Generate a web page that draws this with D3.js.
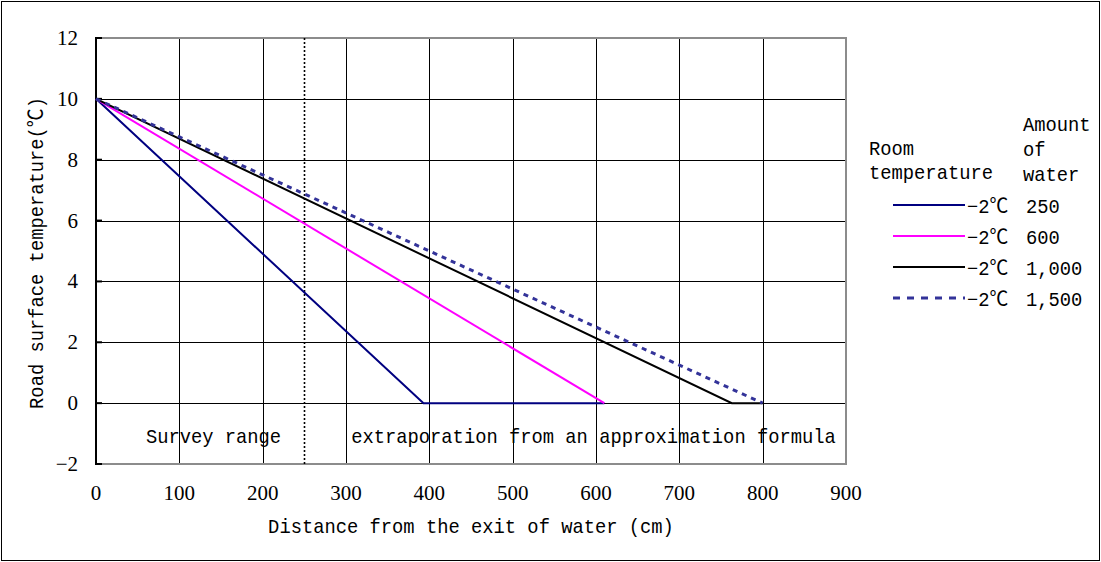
<!DOCTYPE html>
<html>
<head>
<meta charset="utf-8">
<script src="https://cdn.jsdelivr.net/npm/d3@7"></script>
<style>
  html, body { margin: 0; padding: 0; background: #fff; }
  svg { display: block; }
</style>
</head>
<body>
<svg id="chart" width="1101" height="562"></svg>
<script>
// Road surface temperature along the flow, per amount of water (room temperature −2℃)
const xTicks = [0, 100, 200, 300, 400, 500, 600, 700, 800, 900];
const yTicks = [-2, 0, 2, 4, 6, 8, 10, 12];

const seriesNames = ["250", "600", "1,000", "1,500"];
const roomTemp = "−2℃";
const water250  = [[0, 10], [393, 0], [610, 0]];
const water600  = [[0, 10], [610, 0]];
const water1000 = [[0, 10], [763, 0], [800, 0]];
const water1500 = [[0, 10], [800, 0]];

const surveyLimit = 250;
const surveyLabel = "Survey range";
const extraLabel = "extraporation from an approximation formula";
const xTitle = "Distance from the exit of water (cm)";
const yTitle = "Road surface temperature(℃)";

const svg = d3.select("#chart");
const W = 1101, H = 562;
const plot = { left: 96, right: 846, top: 38, bottom: 464 };

const x = d3.scaleLinear().domain([0, 900]).range([plot.left, plot.right]);
const y = d3.scaleLinear().domain([-2, 12]).range([plot.bottom, plot.top]);

const monoFont = "'Liberation Mono', 'Noto Sans CJK JP', monospace";
const serifFont = "'Liberation Serif', serif";

// text drawn slightly condensed horizontally
function label(parent, px, py, s, opts = {}) {
  const sx = opts.sx ?? 0.94;
  const rot = opts.rotate ? ` rotate(${opts.rotate})` : "";
  const g = parent.append("g").attr("transform", `translate(${px},${py})${rot} scale(${sx},1)`);
  return g.append("text")
    .attr("font-family", opts.font ?? monoFont)
    .attr("font-size", opts.size ?? 20)
    .attr("text-anchor", opts.anchor ?? "start")
    .attr("fill", "#000")
    .text(s);
}

// outer frame
svg.append("rect").attr("x", 1.5).attr("y", 1.5).attr("width", W - 3).attr("height", H - 3)
  .attr("fill", "#fff").attr("stroke", "#000").attr("stroke-width", 1);

// grid
const grid = svg.append("g");
grid.selectAll("line.v").data(xTicks.slice(1, -1)).join("line")
  .attr("x1", d => Math.round(x(d)) + 0.5).attr("x2", d => Math.round(x(d)) + 0.5)
  .attr("y1", plot.top).attr("y2", plot.bottom)
  .attr("stroke", "#000").attr("stroke-width", 1);
grid.selectAll("line.h").data(yTicks.slice(1, -1)).join("line")
  .attr("x1", plot.left).attr("x2", plot.right)
  .attr("y1", d => Math.round(y(d)) + 0.5).attr("y2", d => Math.round(y(d)) + 0.5)
  .attr("stroke", "#000").attr("stroke-width", 1);

// plot border (grey), left axis black
svg.append("rect").attr("x", plot.left).attr("y", plot.top)
  .attr("width", plot.right - plot.left).attr("height", plot.bottom - plot.top)
  .attr("fill", "none").attr("stroke", "#8c8c8c").attr("stroke-width", 2);
svg.append("line").attr("x1", plot.left).attr("x2", plot.left)
  .attr("y1", plot.top - 1).attr("y2", plot.bottom + 1)
  .attr("stroke", "#000").attr("stroke-width", 2);
svg.selectAll("line.yt").data(yTicks).join("line")
  .attr("x1", plot.left).attr("x2", plot.left + 6)
  .attr("y1", d => y(d)).attr("y2", d => y(d))
  .attr("stroke", "#000").attr("stroke-width", 2);

// y tick labels
yTicks.forEach(t => {
  label(svg, 78, y(t) + 7, t < 0 ? "−" + Math.abs(t) : String(t),
    { font: serifFont, size: 21, anchor: "end", sx: 1 });
});
// x tick labels
xTicks.forEach(t => {
  label(svg, x(t), 500, String(t), { font: serifFont, size: 21, anchor: "middle", sx: 1 });
});

// axis titles
label(svg, (plot.left + plot.right) / 2, 533, xTitle, { anchor: "middle" });
label(svg, 43, 253, yTitle, { anchor: "middle", rotate: -90 });

// survey boundary
svg.append("line")
  .attr("x1", Math.round(x(surveyLimit)) + 0.5).attr("x2", Math.round(x(surveyLimit)) + 0.5)
  .attr("y1", plot.top).attr("y2", plot.bottom)
  .attr("stroke", "#000").attr("stroke-width", 1.6).attr("stroke-dasharray", "2,2");

label(svg, x(141), y(-1.3), surveyLabel, { anchor: "middle" });
label(svg, x(597), y(-1.3), extraLabel, { anchor: "middle" });

// series
const series = [
  { name: seriesNames[0], data: water250,  color: "#000080", dash: null, width: 2 },
  { name: seriesNames[1], data: water600,  color: "#ff00ff", dash: null, width: 2 },
  { name: seriesNames[2], data: water1000, color: "#000000", dash: null, width: 2 },
  { name: seriesNames[3], data: water1500, color: "#333399", dash: "5,5", width: 3 }
];
const line = d3.line().x(d => x(d[0])).y(d => y(d[1]));
series.forEach(s => {
  svg.append("path").datum(s.data).attr("d", line)
    .attr("fill", "none").attr("stroke", s.color).attr("stroke-width", s.width)
    .attr("stroke-dasharray", s.dash);
});

// legend
const lg = svg.append("g");
label(lg, 869, 155, "Room");
label(lg, 869, 179, "temperature");
label(lg, 1023, 131, "Amount");
label(lg, 1023, 156, "of");
label(lg, 1023, 181, "water");
const rowY = [205, 236, 267, 298];
series.forEach((s, i) => {
  lg.append("line").attr("x1", 893).attr("x2", 965)
    .attr("y1", rowY[i]).attr("y2", rowY[i])
    .attr("stroke", s.color).attr("stroke-width", s.width)
    .attr("stroke-dasharray", s.dash ? "7,7" : null);
  label(lg, 967, rowY[i] + 8, roomTemp);
  label(lg, 1026, rowY[i] + 8, s.name);
});
</script>
</body>
</html>
